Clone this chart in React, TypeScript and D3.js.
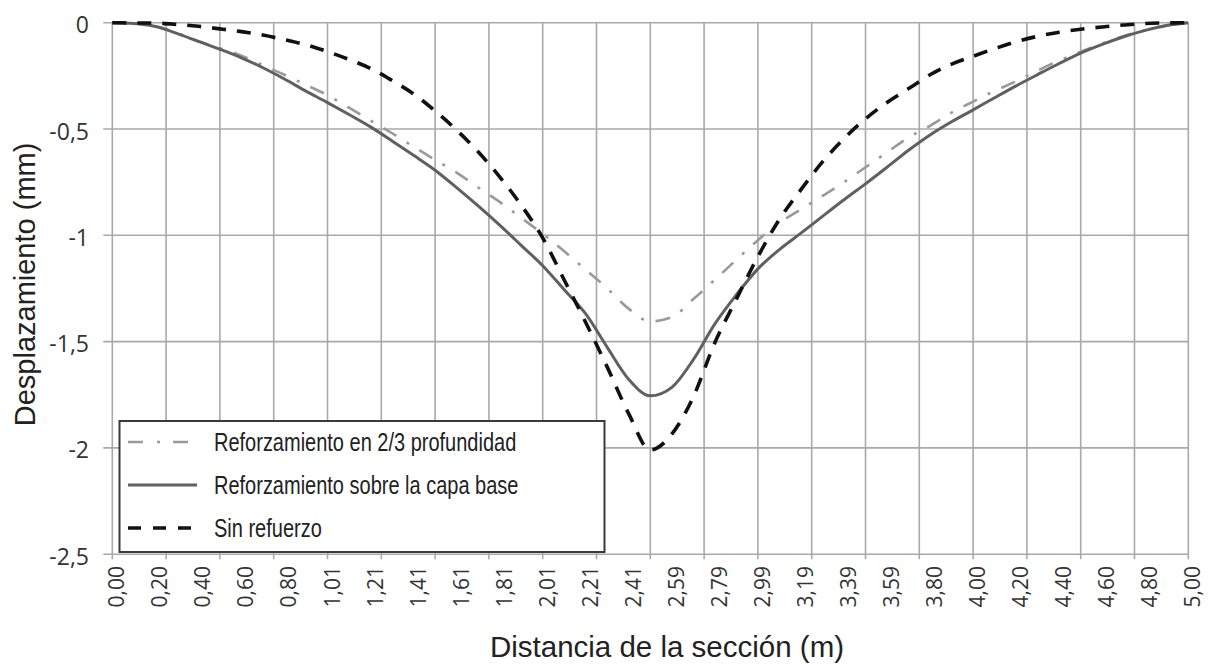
import React from "react";
import * as d3 from "d3";

const distances = [
  0.0, 0.1, 0.2, 0.3, 0.4, 0.5, 0.6, 0.7, 0.8, 0.9,
  1.0, 1.1, 1.2, 1.3, 1.4, 1.5, 1.6, 1.7, 1.8, 1.9,
  2.0, 2.1, 2.2, 2.3, 2.4, 2.5, 2.6, 2.7, 2.8, 2.9,
  3.0, 3.1, 3.2, 3.3, 3.4, 3.5, 3.6, 3.7, 3.8, 3.9,
  4.0, 4.1, 4.2, 4.3, 4.4, 4.5, 4.6, 4.7, 4.8, 4.9, 5.0,
];

const reforzamiento23 = [
  0, -0.004, -0.017, -0.048, -0.087, -0.12, -0.155, -0.2, -0.245, -0.293,
  -0.341, -0.4, -0.46, -0.52, -0.583, -0.645, -0.705, -0.775, -0.843, -0.918,
  -0.993, -1.075, -1.162, -1.25, -1.346, -1.405, -1.385, -1.3, -1.209, -1.115,
  -1.023, -0.942, -0.878, -0.815, -0.75, -0.68, -0.61, -0.54, -0.485, -0.423,
  -0.371, -0.321, -0.276, -0.225, -0.178, -0.136, -0.097, -0.063, -0.034, -0.012, 0,
];

const reforzamientoBase = [
  0, -0.004, -0.018, -0.05, -0.088, -0.125, -0.165, -0.212, -0.265, -0.322,
  -0.376, -0.432, -0.49, -0.556, -0.624, -0.694, -0.776, -0.862, -0.952, -1.047,
  -1.143, -1.256, -1.37, -1.527, -1.678, -1.755, -1.715, -1.585, -1.417, -1.28,
  -1.158, -1.067, -0.99, -0.911, -0.833, -0.758, -0.68, -0.6, -0.528, -0.466,
  -0.41, -0.353, -0.297, -0.244, -0.192, -0.143, -0.102, -0.066, -0.036, -0.013, 0,
];

const sinRefuerzo = [
  0, -0.001, -0.002, -0.008, -0.017, -0.029, -0.042, -0.058, -0.08, -0.104,
  -0.136, -0.173, -0.215, -0.272, -0.335, -0.415, -0.505, -0.607, -0.725, -0.858,
  -1.012, -1.21, -1.41, -1.62, -1.84, -2.01, -1.935, -1.76, -1.505, -1.3,
  -1.1, -0.925, -0.785, -0.655, -0.545, -0.452, -0.375, -0.31, -0.245, -0.195,
  -0.158, -0.122, -0.09, -0.064, -0.045, -0.031, -0.02, -0.011, -0.004, -0.001, 0,
];

const xTickLabels = [
  "0,00", "0,20", "0,40", "0,60", "0,80", "1,01", "1,21", "1,41", "1,61", "1,81",
  "2,01", "2,21", "2,41", "2,59", "2,79", "2,99", "3,19", "3,39", "3,59", "3,80",
  "4,00", "4,20", "4,40", "4,60", "4,80", "5,00",
];

const yTicks = [0, -0.5, -1, -1.5, -2, -2.5];
const yTickLabels = ["0", "-0,5", "-1", "-1,5", "-2", "-2,5"];
const xGridCount = 20;

const seriesNames = [
  "Reforzamiento en 2/3 profundidad",
  "Reforzamiento sobre la capa base",
  "Sin refuerzo",
];

export default function App() {
  const W = 1217;
  const H = 665;
  const left = 112.3;
  const right = 1188.3;
  const top = 22.7;
  const bottom = 554.2;

  const x = d3.scaleLinear().domain([0, 5]).range([left, right]);
  const y = d3.scaleLinear().domain([-2.5, 0]).range([bottom, top]);

  const line = d3
    .line<[number, number]>()
    .x((d) => x(d[0]))
    .y((d) => y(d[1]))
    .curve(d3.curveMonotoneX);

  const mk = (vals: number[]) =>
    line(distances.map((d, i) => [d, vals[i]]) as [number, number][]) || "";

  const styles = [
    { stroke: "#9a9a9a", width: 2.6, dash: "15,12,3,12" },
    { stroke: "#606060", width: 3, dash: undefined as string | undefined },
    { stroke: "#111111", width: 3.6, dash: "14,11" },
  ];
  const seriesVals = [reforzamiento23, reforzamientoBase, sinRefuerzo];

  const gridColor = "#a9a9a9";
  const xGrid = d3.range(xGridCount + 1).map((i) => x((5 * i) / xGridCount));
  const xTickPos = xTickLabels.map((_, i) => x((5 * i) / (xTickLabels.length - 1)));

  const legendX = 119.5;
  const legendY = 421;
  const legendW = 485;
  const legendH = 131;
  const rowY = [442, 485, 528];

  return (
    <svg width={W} height={H} style={{ position: "absolute", left: 0, top: 0, background: "#fff" }}>
      <rect x={0} y={0} width={W} height={H} fill="#fff" />
      {/* grid */}
      <g stroke={gridColor} strokeWidth={1.6}>
        {xGrid.map((gx, i) => (
          <line key={"vx" + i} x1={gx} x2={gx} y1={top} y2={bottom + 5} />
        ))}
        {yTicks.map((t, i) => (
          <line key={"hy" + i} x1={left - 9} x2={right} y1={y(t)} y2={y(t)} />
        ))}
      </g>
      {/* y tick labels */}
      <g fontFamily="'Open Sans', sans-serif" fontSize={23} fill="#333" textAnchor="end">
        {yTicks.map((t, i) => (
          <text key={"yl" + i} x={89} y={y(t) + 1.5} dominantBaseline="central">
            {yTickLabels[i]}
          </text>
        ))}
      </g>
      {/* x tick labels */}
      <g fontFamily="'Open Sans', sans-serif" fontSize={21} fill="#333" textAnchor="end">
        {xTickLabels.map((lab, i) => (
          <text
            key={"xl" + i}
            transform={`translate(${xTickPos[i] + 4},566) rotate(-90)`}
            dominantBaseline="central"
          >
            {lab}
          </text>
        ))}
      </g>
      {/* series */}
      {seriesVals.map((vals, i) => (
        <path
          key={"s" + i}
          d={mk(vals)}
          fill="none"
          stroke={styles[i].stroke}
          strokeWidth={styles[i].width}
          strokeDasharray={styles[i].dash}
          strokeLinejoin="round"
        />
      ))}
      {/* legend */}
      <rect x={legendX} y={legendY} width={legendW} height={legendH} fill="#fff" stroke="#3a3a3a" strokeWidth={2} />
      {seriesNames.map((name, i) => (
        <g key={"lg" + i}>
          <line
            x1={128}
            x2={197}
            y1={rowY[i]}
            y2={rowY[i]}
            stroke={styles[i].stroke}
            strokeWidth={styles[i].width}
            strokeDasharray={i === 0 ? "15,14,3,13" : i === 2 ? "13,12" : undefined}
          />
          <text
            transform={`translate(214,${rowY[i] + 9}) scale(0.8,1)`}
            fontFamily="'Liberation Sans', Arial, sans-serif"
            fontSize={25}
            fill="#222"
          >
            {name}
          </text>
        </g>
      ))}
      {/* axis titles */}
      <text
        transform={`translate(35,${(top + bottom) / 2 - 4}) rotate(-90)`}
        textAnchor="middle"
        fontFamily="'Liberation Sans', Arial, sans-serif"
        fontSize={29}
        fill="#222"
      >
        Desplazamiento (mm)
      </text>
      <text
        x={667}
        y={657}
        textAnchor="middle"
        fontFamily="'Liberation Sans', Arial, sans-serif"
        fontSize={29.5}
        fill="#222"
      >
        Distancia de la sección (m)
      </text>
    </svg>
  );
}
